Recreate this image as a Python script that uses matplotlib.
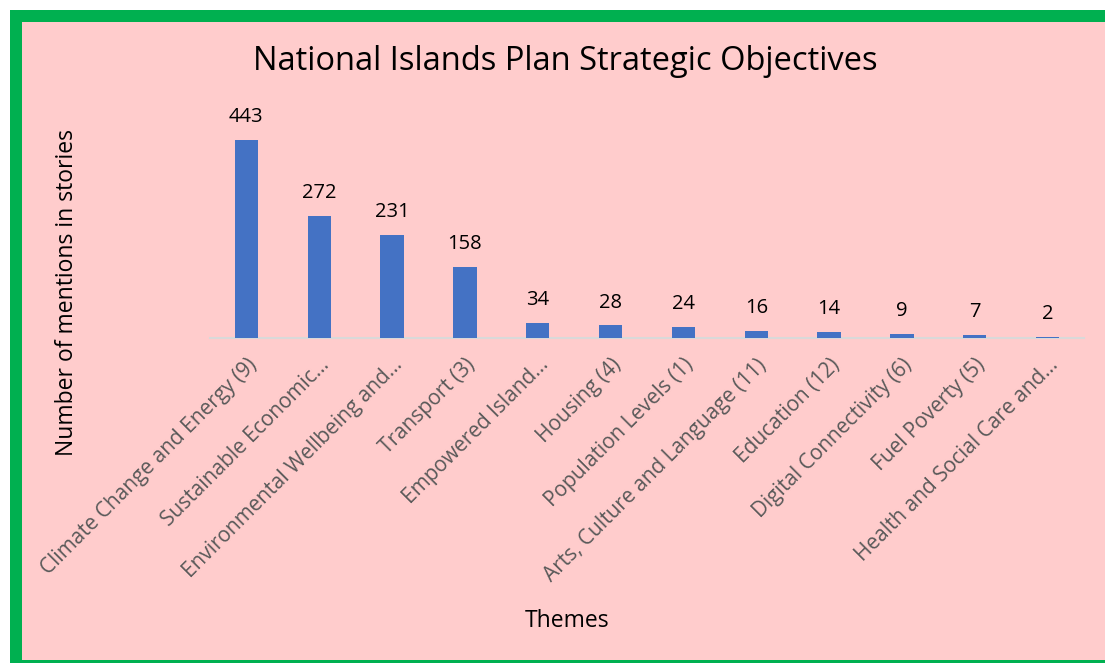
import numpy as np
import matplotlib.pyplot as plt
from matplotlib.patches import Rectangle

themes = ['Climate Change and Energy (9)', 'Sustainable Economic…',
          'Environmental Wellbeing and…', 'Transport (3)', 'Empowered Island…',
          'Housing (4)', 'Population Levels (1)', 'Arts, Culture and Language (11)',
          'Education (12)', 'Digital Connectivity (6)', 'Fuel Poverty (5)',
          'Health and Social Care and…']
mentions = [443, 272, 231, 158, 34, 28, 24, 16, 14, 9, 7, 2]

W, H = 1105, 663
pink = '#FFCCCC'
green = '#00B050'

fig = plt.figure(figsize=(W / 100, H / 100), dpi=100)
fig.patch.set_facecolor('white')

def px(x, y):
    # pixel coords (from top-left) to figure fraction
    return x / W, 1 - y / H

# green frame, then pink panel inside
fig.patches.append(Rectangle(px(10, 675), 1.2, (675 - 10) / H, transform=fig.transFigure,
                             facecolor=green, edgecolor='none', zorder=-2))
fig.patches.append(Rectangle(px(22, 660), 1.2, (660 - 22) / H, transform=fig.transFigure,
                             facecolor=pink, edgecolor='none', zorder=-1))

ax = fig.add_axes([210 / W, 1 - 338 / H, (1084 - 210) / W, 223.5 / H])
ax.set_zorder(2)
ax.set_facecolor('none')
x = np.arange(len(themes))
bars = ax.bar(x, mentions, width=0.32, color='#4472C4', zorder=3)
for xi, v in zip(x, mentions):
    ax.text(xi, v + 29, str(v), ha='center', va='bottom', fontsize=14.5,
            family='Open Sans', color='black')

ax.set_xlim(-0.5, len(themes) - 0.5)
ax.set_ylim(0, 500)
ax.set_yticks([])
ax.set_xticks(x)
ax.set_xticklabels(themes, rotation=45, ha='right', rotation_mode='anchor',
                   fontsize=15, family='Open Sans', color='#595959')
ax.tick_params(axis='x', length=0, pad=12)
for s in ['top', 'right', 'left']:
    ax.spines[s].set_visible(False)
ax.spines['bottom'].set_color('#D9D9D9')
ax.spines['bottom'].set_linewidth(1.5)

fig.text(565 / W, 1 - 62 / H, 'National Islands Plan Strategic Objectives', ha='center',
         va='center', fontsize=23.5, family='Open Sans', color='black')
fig.text(567 / W, 1 - 621 / H, 'Themes', ha='center', va='center', fontsize=16.5,
         family='Open Sans', color='black')
fig.text(67 / W, 1 - 292 / H, 'Number of mentions in stories', ha='center', va='center',
         rotation=90, fontsize=16.5, family='Open Sans', color='black')

fig.savefig('out.png', dpi=100, facecolor=fig.get_facecolor())
